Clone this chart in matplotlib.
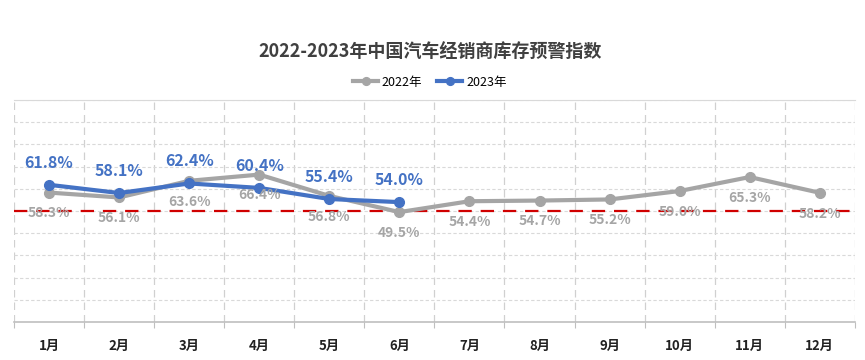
import matplotlib.pyplot as plt

plt.rcParams['font.family'] = ['Noto Sans CJK SC', 'DejaVu Sans']

months = ['1月', '2月', '3月', '4月', '5月', '6月', '7月', '8月', '9月', '10月', '11月', '12月']
idx_2022 = [58.3, 56.1, 63.6, 66.4, 56.8, 49.5, 54.4, 54.7, 55.2, 59.0, 65.3, 58.2]
idx_2023 = [61.8, 58.1, 62.4, 60.4, 55.4, 54.0]
warn_line = 50

gray = '#A5A5A5'
blue = '#4472C4'

fig = plt.figure(figsize=(8.65, 3.6), dpi=100)
ax = fig.add_axes([0.0162, 0.1056, 0.972, 0.6166])

x = list(range(len(months)))
ax.plot(x, idx_2022, '-o', color=gray, lw=3, ms=7, label='2022年', zorder=3)
ax.plot(x[:len(idx_2023)], idx_2023, '-o', color=blue, lw=3, ms=7, label='2023年', zorder=4)
ax.axhline(warn_line, color='#D00000', lw=1.6, ls=(0, (6, 4)), zorder=2)

for i, v in enumerate(idx_2022):
    ax.annotate(f'{v:.1f}%', (i, v), xytext=(0, -15), textcoords='offset points',
                ha='center', va='center', color=gray, fontsize=10, fontweight='bold',
                zorder=5)
for i, v in enumerate(idx_2023):
    ax.annotate(f'{v:.1f}%', (i, v), xytext=(0, 16), textcoords='offset points',
                ha='center', va='center', color=blue, fontsize=11.5, fontweight='bold',
                zorder=5)

ax.set_xlim(-0.5, len(months) - 0.5)
ax.set_ylim(0, 100)
ax.set_yticks(range(0, 101, 10))
ax.set_yticklabels([])
ax.tick_params(axis='y', length=0)
ax.set_xticks([i + 0.5 for i in range(-1, len(months))], minor=False)
ax.set_xticklabels([])
ax.set_xticks(x, minor=True)
ax.set_xticklabels(months, minor=True, fontsize=9.5, fontweight='bold', color='#222222')
ax.tick_params(axis='x', which='major', length=4, color='#BFBFBF')
ax.tick_params(axis='x', which='minor', length=0, pad=12)
ax.grid(axis='y', color='#D9D9D9', lw=0.8, ls=(0, (3, 2)))
ax.grid(axis='x', which='major', color='#D0D0D0', lw=0.9, ls=(0, (6, 4)))
for s in ['left', 'right']:
    ax.spines[s].set_visible(False)
ax.spines['top'].set_color('#D9D9D9')
ax.spines['bottom'].set_color('#BFBFBF')
ax.spines['bottom'].set_linewidth(1.2)

fig.text(0.497, 0.855, '2022-2023年中国汽车经销商库存预警指数', ha='center', va='center',
         fontsize=13, fontweight='bold', color='#404040')
fig.legend(loc='center', bbox_to_anchor=(0.497, 0.772), ncol=2, frameon=False,
           fontsize=9, handlelength=2, handletextpad=0.3, columnspacing=1.2,
           markerscale=0.8)

fig.savefig('out.png', dpi=100)
